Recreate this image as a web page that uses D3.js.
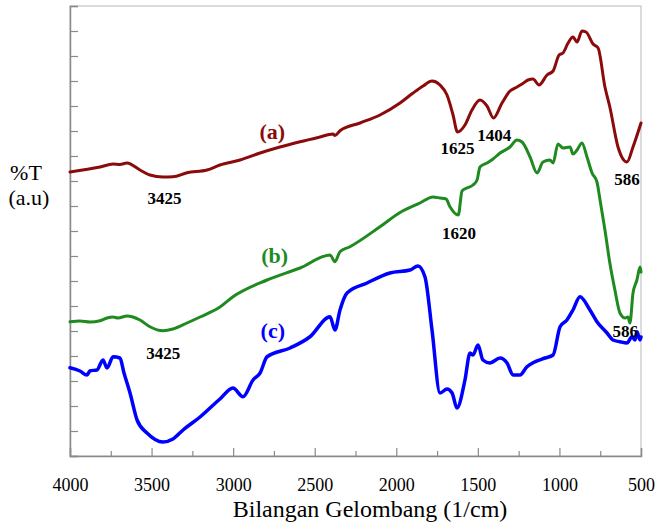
<!DOCTYPE html>
<html>
<head>
<meta charset="utf-8">
<script src="https://cdn.jsdelivr.net/npm/d3@7"></script>
</head>
<body style="margin:0">
<script>
// FTIR spectra, wavenumber (1/cm) vs %T in arbitrary units
var wnA = [4000, 3816, 3736, 3694, 3651, 3571, 3510, 3430, 3369, 3283, 3160, 3081, 2958, 2835, 2713, 2590, 2468, 2388, 2376, 2345, 2222, 2100, 1977, 1897, 1836, 1781, 1732, 1689, 1652, 1625, 1579, 1536, 1487, 1444, 1404, 1352, 1303, 1272, 1229, 1193, 1162, 1125, 1076, 1039, 1002, 978, 947, 917, 892, 862, 837, 794, 763, 721, 691, 641, 586, 549, 500];
var tA  = [11.36, 11.56, 11.68, 11.66, 11.72, 11.44, 11.24, 11.16, 11.17, 11.33, 11.44, 11.64, 11.84, 12.12, 12.36, 12.57, 12.76, 12.88, 12.82, 13.01, 13.32, 13.64, 14.12, 14.52, 14.8, 15.0, 14.84, 14.44, 13.64, 12.96, 13.24, 13.84, 14.24, 14.0, 13.52, 14.12, 14.6, 14.72, 14.88, 15.04, 15.08, 14.84, 15.24, 15.4, 16.04, 16.12, 16.52, 16.76, 16.56, 17.0, 16.96, 16.48, 16.32, 14.76, 13.96, 12.36, 11.76, 12.36, 13.32];

var wnB = [4000, 3939, 3877, 3816, 3773, 3736, 3706, 3651, 3614, 3571, 3510, 3430, 3369, 3283, 3203, 3081, 3001, 2792, 2590, 2406, 2376, 2345, 2284, 2100, 1977, 1855, 1775, 1732, 1695, 1671, 1620, 1597, 1567, 1530, 1505, 1487, 1444, 1407, 1364, 1303, 1260, 1229, 1180, 1137, 1101, 1058, 1039, 1009, 978, 935, 917, 892, 862, 831, 800, 770, 751, 721, 691, 660, 629, 598, 580, 568, 549, 525, 506, 500];
var tB  = [5.37, 5.4, 5.36, 5.41, 5.52, 5.56, 5.52, 5.6, 5.56, 5.44, 5.17, 5.01, 5.08, 5.32, 5.56, 5.96, 6.37, 7.04, 7.52, 8.04, 7.77, 8.17, 8.37, 9.17, 9.74, 10.12, 10.36, 10.32, 10.28, 9.97, 9.64, 10.6, 10.72, 10.84, 11.04, 11.56, 11.72, 11.88, 12.12, 12.36, 12.64, 12.56, 11.96, 11.32, 11.76, 11.84, 11.72, 12.48, 12.32, 12.36, 12.08, 12.24, 12.52, 11.96, 11.32, 10.96, 10.24, 9.04, 7.72, 6.64, 5.72, 5.52, 5.56, 5.32, 6.52, 7.04, 7.56, 7.36];

var wnC = [4000, 3939, 3896, 3877, 3835, 3798, 3773, 3736, 3694, 3669, 3632, 3589, 3528, 3430, 3369, 3307, 3203, 3081, 3001, 2940, 2878, 2835, 2792, 2651, 2529, 2406, 2376, 2345, 2302, 2179, 2039, 1916, 1867, 1824, 1781, 1732, 1689, 1658, 1628, 1579, 1548, 1530, 1499, 1469, 1426, 1364, 1321, 1284, 1242, 1199, 1162, 1088, 1039, 996, 954, 917, 874, 813, 770, 708, 672, 629, 586, 555, 537, 525, 506, 500];
var tC  = [3.53, 3.4, 3.24, 3.41, 3.44, 3.84, 3.52, 3.97, 3.92, 3.32, 2.52, 1.44, 0.92, 0.56, 0.68, 1.04, 1.56, 2.28, 2.72, 2.37, 3.04, 3.32, 3.97, 4.32, 4.77, 5.57, 5.04, 5.84, 6.52, 6.92, 7.32, 7.44, 7.6, 7.16, 5.04, 2.52, 2.68, 2.52, 1.92, 3.04, 4.12, 4.04, 4.44, 3.84, 3.72, 3.92, 3.72, 3.24, 3.24, 3.57, 3.73, 3.92, 4.04, 5.17, 5.44, 5.84, 6.37, 5.84, 5.37, 4.92, 4.64, 4.57, 4.52, 4.77, 4.64, 4.97, 4.64, 4.76];

var seriesNames = ["(a)", "(b)", "(c)"];
var seriesColors = ["#8b0a0a", "#1f8a1f", "#0000ff"];

// peak labels: [wavenumber, %T, text]
var peakLabels = [
    [3420, 10.08, "3425"], [1625, 12.08, "1625"], [1400, 12.6, "1404"], [586, 10.84, "586"],
    [1616, 8.68, "1620"], [3428, 3.88, "3425"], [596, 4.76, "586"]
];
// series label positions [wavenumber, %T]
var nameAt = [[2760, 12.68], [2745, 7.72], [2757, 4.72]];

var xMajor = d3.range(4000, 499, -500);
var xMinor = d3.range(3750, 500, -500);
var yTicks = d3.range(0, 19, 1);

var serif = "'Liberation Serif', monospace";

var width = 655, height = 523;
var margin = { top: 6, right: 14, bottom: 67, left: 70 };
var w = width - margin.left - margin.right,
    h = height - margin.top - margin.bottom;

var svg = d3.select("body").append("svg")
    .attr("width", width)
    .attr("height", height);

var g = svg.append("g")
    .attr("transform", "translate(" + margin.left + "," + margin.top + ")");

var x = d3.scaleLinear().domain([4000, 500]).range([0, w]);
var y = d3.scaleLinear().domain([0, 18]).range([h, 0]);

// frame (top and right)
g.append("rect")
    .attr("width", w).attr("height", h)
    .attr("fill", "none")
    .attr("stroke", "#c4c4c4")
    .attr("stroke-width", 1.2);

// x axis, major ticks with labels
var xAxis = g.append("g")
    .attr("transform", "translate(0," + h + ")")
    .call(d3.axisBottom(x).tickValues(xMajor).tickSize(-8).tickPadding(22).tickFormat(d3.format("d")));
xAxis.select(".domain").attr("stroke", "#8a8a8a").attr("stroke-width", 1.5);
xAxis.selectAll(".tick line").attr("stroke", "#8a8a8a").attr("stroke-width", 1.2);
xAxis.selectAll("text")
    .attr("fill", "#000")
    .attr("font-size", 18)
    .style("font-family", serif);

// x minor ticks
var xAxisMinor = g.append("g")
    .attr("transform", "translate(0," + h + ")")
    .call(d3.axisBottom(x).tickValues(xMinor).tickSize(-5).tickFormat(""));
xAxisMinor.select(".domain").remove();
xAxisMinor.selectAll(".tick line").attr("stroke", "#8a8a8a").attr("stroke-width", 1.2);

// y axis, ticks only
var yAxis = g.append("g")
    .call(d3.axisLeft(y).tickValues(yTicks).tickSize(-8).tickFormat(""));
yAxis.select(".domain").attr("stroke", "#8a8a8a").attr("stroke-width", 1.5);
yAxis.selectAll(".tick line").attr("stroke", "#8a8a8a").attr("stroke-width", 1.2);

// spectra
var line = d3.line()
    .x(function (d) { return x(d[0]); })
    .y(function (d) { return y(d[1]); })
    .curve(d3.curveMonotoneX);

var spectra = [d3.zip(wnA, tA), d3.zip(wnB, tB), d3.zip(wnC, tC)];
var widths = [3, 3, 3.5];

spectra.forEach(function (s, i) {
    g.append("path")
        .datum(s)
        .attr("d", line)
        .attr("fill", "none")
        .attr("stroke", seriesColors[i])
        .attr("stroke-width", widths[i])
        .attr("stroke-linejoin", "round")
        .attr("stroke-linecap", "round");
});

// series names
g.selectAll("text.name")
    .data(seriesNames)
    .enter().append("text")
    .attr("class", "name")
    .attr("x", function (d, i) { return x(nameAt[i][0]); })
    .attr("y", function (d, i) { return y(nameAt[i][1]); })
    .attr("text-anchor", "middle")
    .attr("fill", function (d, i) { return seriesColors[i]; })
    .attr("font-size", 22)
    .attr("font-weight", "bold")
    .style("font-family", serif)
    .text(function (d) { return d; });

// peak labels
g.selectAll("text.peak")
    .data(peakLabels)
    .enter().append("text")
    .attr("class", "peak")
    .attr("x", function (d) { return x(d[0]); })
    .attr("y", function (d) { return y(d[1]); })
    .attr("text-anchor", "middle")
    .attr("fill", "#000")
    .attr("font-size", 17)
    .attr("font-weight", "bold")
    .style("font-family", serif)
    .text(function (d) { return d[2]; });

// axis titles
svg.append("text")
    .attr("x", 370)
    .attr("y", 517)
    .attr("text-anchor", "middle")
    .attr("font-size", 24)
    .style("font-family", serif)
    .text("Bilangan Gelombang (1/cm)");

svg.append("text")
    .attr("x", 26)
    .attr("y", 180)
    .attr("text-anchor", "middle")
    .attr("font-size", 22)
    .style("font-family", serif)
    .text("%T");

svg.append("text")
    .attr("x", 29)
    .attr("y", 205)
    .attr("text-anchor", "middle")
    .attr("font-size", 22)
    .style("font-family", serif)
    .text("(a.u)");
</script>
</body>
</html>
